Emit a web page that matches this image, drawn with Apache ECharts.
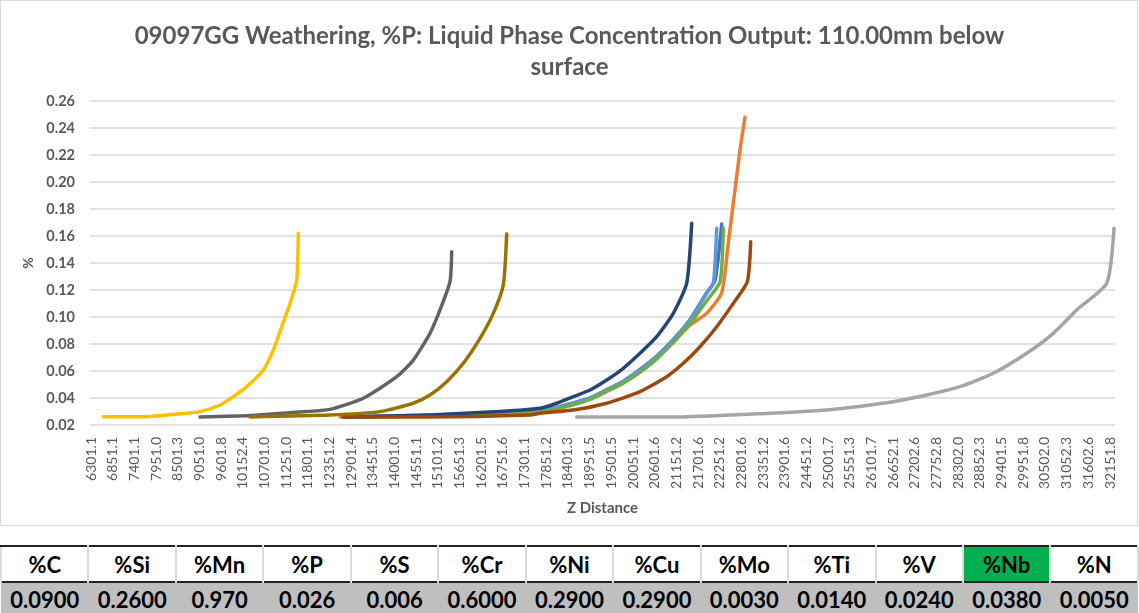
<!DOCTYPE html>
<html>
<head>
<meta charset="utf-8">
<script src="https://cdn.jsdelivr.net/npm/echarts@6/dist/echarts.min.js"></script>
<style>
    html, body { margin: 0; padding: 0; background: #fff; }
    body { width: 1139px; height: 613px; position: relative; overflow: hidden; font-family: Lato, "Open Sans", sans-serif; }
    #chart { position: absolute; left: 0; top: 0; width: 1139px; height: 527px; }
    #frame { position: absolute; left: 0; top: 0; width: 1136px; height: 524px; border: 1.5px solid #d9d9d9; pointer-events: none; }
    #comp { position: absolute; left: 0; top: 545px; width: 1139px; border-collapse: collapse; table-layout: fixed; }
    #comp td { text-align: center; font-weight: bold; font-size: 22px; color: #000; padding: 0; }
    #comp tr.head td { height: 34px; border-top: 2px solid #222; border-left: 2px solid #dcdcdc; border-right: 2px solid #dcdcdc; background: #fff; }
    #comp tr.vals td { height: 31px; border-top: 2px solid #222; background: #bfbfbf; vertical-align: top; padding-top: 3px; }
    #comp td.nb { background: #00b050 !important; }
</style>
</head>
<body>
<div id="chart"></div>
<div id="frame"></div>
<table id="comp"></table>
<script>
// x axis tick labels (Z Distance)
var xLabels = ['6301.1','6851.1','7401.1','7951.0','8501.3','9051.0','9601.8','10152.4','10701.0','11251.0',
    '11801.1','12351.2','12901.4','13451.5','14001.0','14551.1','15101.2','15651.3','16201.5','16751.6',
    '17301.1','17851.2','18401.3','18951.5','19501.5','20051.1','20601.6','21151.2','21701.6','22251.2',
    '22801.6','23351.2','23901.6','24451.2','25001.7','25551.3','26101.7','26652.1','27202.6','27752.8',
    '28302.0','28852.3','29401.5','29951.8','30502.0','31052.3','31602.6','32151.8'];

// series: z distance / %P
var zBlue = [12702, 14901, 16677, 17692, 18537, 18961, 19384, 19805, 20229, 20653, 21074, 21498, 21921, 22132, 22302];
var pBlue = [0.026, 0.0272, 0.0292, 0.0302, 0.0364, 0.0401, 0.0462, 0.0525, 0.0611, 0.071, 0.0834, 0.0982, 0.118, 0.127, 0.1689];

var zOrange = [12618, 14901, 16677, 17692, 18537, 18961, 19384, 19805, 20229, 20653, 21074, 21498, 21921, 22302, 22469, 22766, 22893];
var pOrange = [0.026, 0.027, 0.029, 0.0299, 0.036, 0.0398, 0.046, 0.052, 0.060, 0.0706, 0.082, 0.094, 0.1027, 0.118, 0.1546, 0.2237, 0.248];

var zLtGray = [18623, 21328, 23527, 24966, 26655, 27503, 28348, 29192, 30040, 30715, 31308, 32069, 32255];
var pLtGray = [0.026, 0.026, 0.0287, 0.0311, 0.0373, 0.0422, 0.0484, 0.0583, 0.0731, 0.0879, 0.1052, 0.125, 0.1657];

var zYellow = [6613, 7714, 8475, 9066, 9574, 9911, 10251, 10672, 10926, 11139, 11350, 11520, 11560];
var pYellow = [0.0261, 0.0262, 0.0281, 0.0299, 0.0348, 0.041, 0.0484, 0.0607, 0.0756, 0.0928, 0.110, 0.1274, 0.162];

var zLtBlue = [12702, 14901, 16677, 17692, 18537, 18961, 19384, 19805, 20229, 20653, 21074, 21498, 21921, 22089, 22175];
var pLtBlue = [0.026, 0.027, 0.029, 0.0299, 0.0361, 0.0398, 0.0459, 0.0521, 0.0607, 0.0706, 0.083, 0.0978, 0.1176, 0.125, 0.1657];

var zGreen = [12702, 14901, 16677, 17692, 18537, 18961, 19384, 19805, 20229, 20653, 21074, 21498, 21921, 22259, 22342];
var pGreen = [0.026, 0.0268, 0.0285, 0.0295, 0.035, 0.039, 0.0448, 0.051, 0.059, 0.069, 0.081, 0.095, 0.112, 0.126, 0.1657];

var zNavy = [12702, 14901, 16677, 17692, 18116, 18537, 18961, 19384, 19805, 20229, 20653, 21074, 21414, 21541];
var pNavy = [0.026, 0.0275, 0.030, 0.0324, 0.0361, 0.041, 0.0459, 0.0533, 0.062, 0.0731, 0.0854, 0.1027, 0.125, 0.1694];

var zBrown = [12702, 14901, 17438, 17692, 18537, 19384, 20229, 20906, 21328, 21751, 22175, 22596, 22951, 23038];
var pBrown = [0.026, 0.026, 0.0274, 0.0287, 0.0311, 0.0361, 0.0447, 0.0558, 0.0657, 0.078, 0.0928, 0.1101, 0.1261, 0.1558];

var zDkGray = [9066, 10335, 11520, 12364, 13209, 14057, 14478, 14901, 15155, 15409, 15452];
var pDkGray = [0.026, 0.027, 0.0295, 0.0316, 0.0398, 0.0558, 0.0681, 0.0879, 0.1052, 0.1262, 0.1484];

var zOlive = [10335, 12364, 13633, 14478, 14901, 15325, 15746, 16170, 16507, 16761, 16847];
var pOlive = [0.026, 0.0274, 0.0299, 0.0361, 0.0422, 0.0521, 0.0657, 0.0842, 0.1027, 0.1237, 0.1615];

// composition table
var elements = ['%C','%Si','%Mn','%P','%S','%Cr','%Ni','%Cu','%Mo','%Ti','%V','%Nb','%N'];
var amounts = ['0.0900','0.2600','0.970','0.026','0.006','0.6000','0.2900','0.2900','0.0030','0.0140','0.0240','0.0380','0.0050'];

function pairs(zs, ps) {
    var out = [];
    for (var i = 0; i < zs.length; i++) out.push([zs[i], ps[i]]);
    return out;
}

var lines = [
    {name: 'Series1', color: '#4472c4', z: zBlue, p: pBlue},
    {name: 'Series2', color: '#ed7d31', z: zOrange, p: pOrange},
    {name: 'Series3', color: '#a5a5a5', z: zLtGray, p: pLtGray},
    {name: 'Series4', color: '#ffc000', z: zYellow, p: pYellow},
    {name: 'Series5', color: '#5b9bd5', z: zLtBlue, p: pLtBlue},
    {name: 'Series6', color: '#70ad47', z: zGreen, p: pGreen},
    {name: 'Series7', color: '#264478', z: zNavy, p: pNavy},
    {name: 'Series8', color: '#9e480e', z: zBrown, p: pBrown},
    {name: 'Series9', color: '#636363', z: zDkGray, p: pDkGray},
    {name: 'Series10', color: '#997300', z: zOlive, p: pOlive}
];

var seriesList = [];
for (var i = 0; i < lines.length; i++) {
    seriesList.push({
        name: lines[i].name,
        type: 'line',
        xAxisIndex: 0,
        yAxisIndex: 0,
        showSymbol: false,
        symbol: 'none',
        smooth: 0.2,
        lineStyle: {color: lines[i].color, width: 3.5, cap: 'round', join: 'round'},
        itemStyle: {color: lines[i].color},
        data: pairs(lines[i].z, lines[i].p)
    });
}

var font = 'Lato, "Open Sans", sans-serif';
var chart = echarts.init(document.getElementById('chart'));
chart.setOption({
    animation: false,
    title: {
        text: '09097GG Weathering, %P: Liquid Phase Concentration Output: 110.00mm below\nsurface',
        left: 'center',
        top: 16,
        textStyle: {fontFamily: font, fontSize: 24, fontWeight: 'bold', color: '#595959', lineHeight: 31}
    },
    grid: [
        {left: 90, right: 24, top: 101, bottom: 102},
        {left: 91, width: 1019, top: 101, bottom: 102}
    ],
    xAxis: [
        {
            type: 'value', gridIndex: 0,
            min: 6275.7, max: 32280,
            name: 'Z Distance', nameLocation: 'middle', nameGap: 76,
            nameTextStyle: {fontFamily: font, fontSize: 15, fontWeight: 'bold', color: '#595959'},
            axisLine: {show: false}, axisTick: {show: false}, axisLabel: {show: false}, splitLine: {show: false}
        },
        {
            type: 'category', gridIndex: 1, boundaryGap: false,
            data: xLabels,
            axisLine: {show: false}, axisTick: {show: false},
            axisLabel: {interval: 0, rotate: 90, margin: 12, fontFamily: font, fontSize: 14, color: '#595959'}
        }
    ],
    yAxis: [
        {
            type: 'value', gridIndex: 0,
            min: 0.02, max: 0.26, interval: 0.02,
            name: '%', nameLocation: 'middle', nameGap: 53,
            nameTextStyle: {fontFamily: font, fontSize: 14, fontWeight: 'bold', color: '#595959'},
            axisLine: {show: false}, axisTick: {show: false},
            axisLabel: {margin: 15, fontFamily: font, fontSize: 14.5, fontWeight: 'bold', color: '#595959',
                formatter: function (v) { return v.toFixed(2); }},
            splitLine: {lineStyle: {color: '#d9d9d9', width: 1.5}}
        },
        {type: 'value', gridIndex: 1, show: false, min: 0, max: 1}
    ],
    series: seriesList
});

// composition table below chart
var headRow = '<tr class="head">';
var valRow = '<tr class="vals">';
for (var k = 0; k < elements.length; k++) {
    headRow += '<td' + (elements[k] === '%Nb' ? ' class="nb"' : '') + '>' + elements[k] + '</td>';
    valRow += '<td>' + amounts[k] + '</td>';
}
document.getElementById('comp').innerHTML = headRow + '</tr>' + valRow + '</tr>';
</script>
</body>
</html>
